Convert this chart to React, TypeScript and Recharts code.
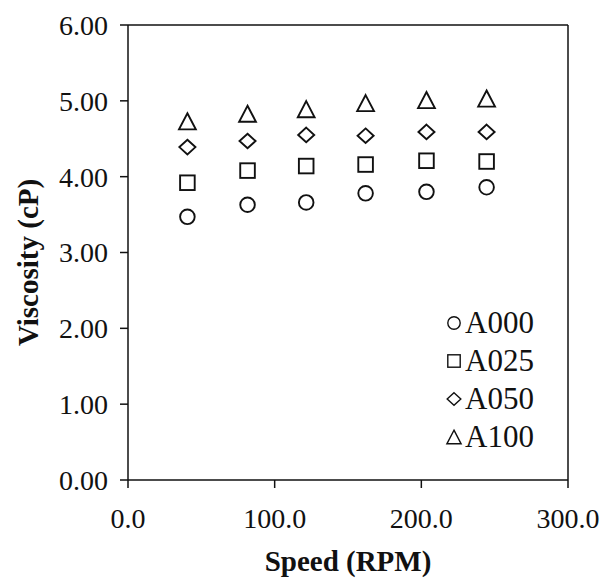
import { ScatterChart, Scatter, XAxis, YAxis, ReferenceLine, Legend, Label } from 'recharts'

const speeds = [40.5, 81.5, 121.5, 162, 203.5, 244.5]
const a000 = [3.47, 3.63, 3.66, 3.78, 3.8, 3.86]
const a025 = [3.92, 4.08, 4.14, 4.16, 4.21, 4.2]
const a050 = [4.39, 4.47, 4.55, 4.54, 4.59, 4.59]
const a100 = [4.73, 4.83, 4.89, 4.97, 5.01, 5.03]
const seriesNames = ['A000', 'A025', 'A050', 'A100']
const xTicks = [0, 100, 200, 300]
const yTicks = [0, 1, 2, 3, 4, 5, 6]

const FONT = '"Liberation Serif", "Times New Roman", serif'
const INK = '#111'

type Kind = 'circle' | 'square' | 'diamond' | 'triangle'

function Marker({ kind, cx, cy, s, sw }: { kind: Kind; cx: number; cy: number; s: number; sw: number }) {
  const common = { fill: 'none', stroke: INK, strokeWidth: sw }
  if (kind === 'circle') return <circle cx={cx} cy={cy} r={s} {...common} />
  if (kind === 'square') return <rect x={cx - s} y={cy - s} width={s * 2} height={s * 2} {...common} />
  if (kind === 'diamond') {
    const w = s * 1.1
    return <path d={`M${cx},${cy - s}L${cx + w},${cy}L${cx},${cy + s}L${cx - w},${cy}Z`} {...common} />
  }
  const w = s * 1.15
  return <path d={`M${cx},${cy - s * 1.1}L${cx + w},${cy + s * 1.1}L${cx - w},${cy + s * 1.1}Z`} {...common} />
}

const toPoints = (vals: number[]) => speeds.map((x, i) => ({ x, y: vals[i] }))

const series: { name: string; kind: Kind; data: { x: number; y: number }[] }[] = [
  { name: seriesNames[0], kind: 'circle', data: toPoints(a000) },
  { name: seriesNames[1], kind: 'square', data: toPoints(a025) },
  { name: seriesNames[2], kind: 'diamond', data: toPoints(a050) },
  { name: seriesNames[3], kind: 'triangle', data: toPoints(a100) },
]

function LegendBox({ payload }: any) {
  return (
    <div style={{ fontFamily: FONT, fontSize: 31, color: INK, lineHeight: '38px' }}>
      {(payload || []).map((p: any) => (
        <div key={p.value} style={{ display: 'flex', alignItems: 'center', height: 38 }}>
          <svg width={18} height={18} style={{ marginRight: 2 }}>
            <Marker kind={p.type as Kind} cx={9} cy={9} s={6.2} sw={1.4} />
          </svg>
          <span>{p.value}</span>
        </div>
      ))}
    </div>
  )
}

const tickStyle = { fontFamily: FONT, fontSize: 28, fill: INK }

export default function App() {
  return (
    <div style={{ position: 'absolute', left: 0, top: 0, width: 602, height: 581, background: '#fff' }}>
      <ScatterChart width={602} height={581} margin={{ top: 25, right: 34, bottom: 6, left: 0 }}>
        <XAxis
          type="number"
          dataKey="x"
          domain={[0, 300]}
          ticks={xTicks}
          tickFormatter={(v: number) => v.toFixed(1)}
          tick={tickStyle}
          tickSize={8}
          tickMargin={20}
          height={95}
          stroke={INK}
          strokeWidth={1.5}
        >
          <Label
            position="insideBottom"
            offset={4}
            value="Speed (RPM)"
            style={{ fontFamily: FONT, fontSize: 29, fontWeight: 700, fill: INK }}
          />
        </XAxis>
        <YAxis
          type="number"
          dataKey="y"
          domain={[0, 6]}
          ticks={yTicks}
          tickFormatter={(v: number) => v.toFixed(2)}
          tick={tickStyle}
          tickSize={8}
          tickMargin={12}
          width={128}
          stroke={INK}
          strokeWidth={1.5}
        >
          <Label
            content={(props: any) => {
              const vb = props.viewBox || { x: 0, y: 25, width: 128, height: 455 }
              const x = vb.x + 38
              const y = vb.y + vb.height / 2 + 10
              return (
                <text
                  x={x}
                  y={y}
                  transform={`rotate(-90, ${x}, ${y})`}
                  textAnchor="middle"
                  style={{ fontFamily: FONT, fontSize: 29, fontWeight: 700, fill: INK }}
                >
                  Viscosity (cP)
                </text>
              )
            }}
          />
        </YAxis>
        <ReferenceLine y={6} stroke={INK} strokeWidth={1.5} />
        <ReferenceLine x={300} stroke={INK} strokeWidth={1.5} />
        {series.map((s) => (
          <Scatter
            key={s.name}
            name={s.name}
            data={s.data}
            legendType={s.kind}
            isAnimationActive={false}
            shape={(p: any) => <Marker kind={s.kind} cx={p.cx} cy={p.cy} s={7.3} sw={1.9} />}
          />
        ))}
        <Legend
          layout="horizontal"
          align="center"
          verticalAlign="middle"
          content={<LegendBox />}
          wrapperStyle={{ position: 'absolute', left: 445, top: 304, width: 145, height: 160, bottom: 'auto' }}
        />
      </ScatterChart>
    </div>
  )
}
